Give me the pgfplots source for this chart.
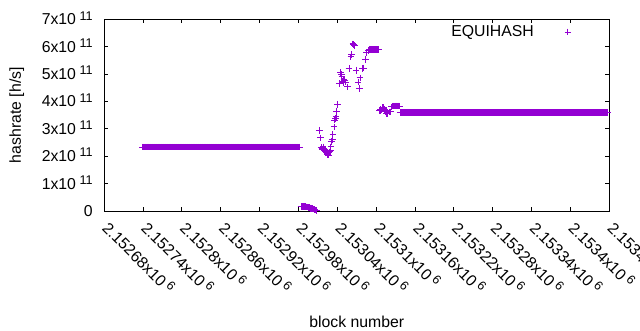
\documentclass[border=0pt]{standalone}
\usepackage{fontspec}
\setmainfont{Liberation Sans}
\usepackage{pgfplots}
\pgfplotsset{compat=1.18}
\definecolor{gpviolet}{RGB}{148,0,211}
\newcommand\sci[2]{#1x10\raisebox{4.7pt}[0pt][0pt]{\fontsize{12.6pt}{12.6pt}\selectfont\ #2}}
\pgfplotsset{pstyle/.style={only marks, mark=+, mark size=3.3pt, color=gpviolet, mark options={line width=1pt},
  legend image code/.code={\draw[##1] plot coordinates {(0pt,0pt)};}}}
\begin{document}
\fontsize{15.8pt}{19pt}\selectfont
\begin{tikzpicture}[font=\fontsize{15.8pt}{19pt}\selectfont]
\begin{axis}[
  at={(104.3pt,119pt)}, anchor=south west,
  width=505pt, height=191.7pt, scale only axis,
  xmin=2152680, xmax=2153460, ymin=0, ymax=7e11,
  axis line style={line width=1pt},
  every tick/.style={black, line width=1pt},
  major tick length=4pt,
  xtick={2152680,2152740,2152800,2152860,2152920,2152980,2153040,2153100,2153160,2153220,2153280,2153340,2153400,2153460},
  xticklabels={\sci{2.15268}{6},\sci{2.15274}{6},\sci{2.1528}{6},\sci{2.15286}{6},\sci{2.15292}{6},\sci{2.15298}{6},\sci{2.15304}{6},\sci{2.1531}{6},\sci{2.15316}{6},\sci{2.15322}{6},\sci{2.15328}{6},\sci{2.15334}{6},\sci{2.1534}{6},\sci{2.15346}{6}},
  ytick={0,1e11,2e11,3e11,4e11,5e11,6e11,7e11},
  yticklabels={0,\sci{1}{11},\sci{2}{11},\sci{3}{11},\sci{4}{11},\sci{5}{11},\sci{6}{11},\sci{7}{11}},
  xticklabel style={xshift=5pt, yshift=-10pt, rotate=-45, anchor=north west, inner sep=0pt},
  yticklabel style={anchor=east, inner sep=0pt, xshift=-11.5pt},
  scaled x ticks=false, scaled y ticks=false,
  xlabel={block number}, ylabel={hashrate [h/s]},
  every axis x label/.style={at={(axis description cs:0.5,-0.6103)}, anchor=base},
  every axis y label/.style={at={(axis description cs:-0.1653,0.5)}, anchor=base, rotate=90},
  legend plot pos=right,
  legend style={draw=none, fill=none, at={(axis description cs:0.9248,0.9337)}, anchor=east,
    inner xsep=0pt, inner ysep=0pt, nodes={inner sep=0pt, text depth=0.15em}, column sep=30.7pt},
]
\addplot[pstyle] coordinates {
(2152739,2.33e11)(2152740,2.33e11)(2152741,2.33e11)(2152742,2.33e11)(2152743,2.33e11)(2152744,2.33e11)(2152745,2.33e11)(2152746,2.33e11)(2152747,2.33e11)(2152748,2.33e11)(2152749,2.33e11)
(2152750,2.33e11)(2152751,2.33e11)(2152752,2.33e11)(2152753,2.33e11)(2152754,2.33e11)(2152755,2.33e11)(2152756,2.33e11)(2152757,2.33e11)(2152758,2.33e11)(2152759,2.33e11)
(2152760,2.33e11)(2152761,2.33e11)(2152762,2.33e11)(2152763,2.33e11)(2152764,2.33e11)(2152765,2.33e11)(2152766,2.33e11)(2152767,2.33e11)(2152768,2.33e11)(2152769,2.33e11)
(2152770,2.33e11)(2152771,2.33e11)(2152772,2.33e11)(2152773,2.33e11)(2152774,2.33e11)(2152775,2.33e11)(2152776,2.33e11)(2152777,2.33e11)(2152778,2.33e11)(2152779,2.33e11)
(2152780,2.33e11)(2152781,2.33e11)(2152782,2.33e11)(2152783,2.33e11)(2152784,2.33e11)(2152785,2.33e11)(2152786,2.33e11)(2152787,2.33e11)(2152788,2.33e11)(2152789,2.33e11)
(2152790,2.33e11)(2152791,2.33e11)(2152792,2.33e11)(2152793,2.33e11)(2152794,2.33e11)(2152795,2.33e11)(2152796,2.33e11)(2152797,2.33e11)(2152798,2.33e11)(2152799,2.33e11)
(2152800,2.33e11)(2152801,2.33e11)(2152802,2.33e11)(2152803,2.33e11)(2152804,2.33e11)(2152805,2.33e11)(2152806,2.33e11)(2152807,2.33e11)(2152808,2.33e11)(2152809,2.33e11)
(2152810,2.33e11)(2152811,2.33e11)(2152812,2.33e11)(2152813,2.33e11)(2152814,2.33e11)(2152815,2.33e11)(2152816,2.33e11)(2152817,2.33e11)(2152818,2.33e11)(2152819,2.33e11)
(2152820,2.33e11)(2152821,2.33e11)(2152822,2.33e11)(2152823,2.33e11)(2152824,2.33e11)(2152825,2.33e11)(2152826,2.33e11)(2152827,2.33e11)(2152828,2.33e11)(2152829,2.33e11)
(2152830,2.33e11)(2152831,2.33e11)(2152832,2.33e11)(2152833,2.33e11)(2152834,2.33e11)(2152835,2.33e11)(2152836,2.33e11)(2152837,2.33e11)(2152838,2.33e11)(2152839,2.33e11)
(2152840,2.33e11)(2152841,2.33e11)(2152842,2.33e11)(2152843,2.33e11)(2152844,2.33e11)(2152845,2.33e11)(2152846,2.33e11)(2152847,2.33e11)(2152848,2.33e11)(2152849,2.33e11)
(2152850,2.33e11)(2152851,2.33e11)(2152852,2.33e11)(2152853,2.33e11)(2152854,2.33e11)(2152855,2.33e11)(2152856,2.33e11)(2152857,2.33e11)(2152858,2.33e11)(2152859,2.33e11)
(2152860,2.33e11)(2152861,2.33e11)(2152862,2.33e11)(2152863,2.33e11)(2152864,2.33e11)(2152865,2.33e11)(2152866,2.33e11)(2152867,2.33e11)(2152868,2.33e11)(2152869,2.33e11)
(2152870,2.33e11)(2152871,2.33e11)(2152872,2.33e11)(2152873,2.33e11)(2152874,2.33e11)(2152875,2.33e11)(2152876,2.33e11)(2152877,2.33e11)(2152878,2.33e11)(2152879,2.33e11)
(2152880,2.33e11)(2152881,2.33e11)(2152882,2.33e11)(2152883,2.33e11)(2152884,2.33e11)(2152885,2.33e11)(2152886,2.33e11)(2152887,2.33e11)(2152888,2.33e11)(2152889,2.33e11)
(2152890,2.33e11)(2152891,2.33e11)(2152892,2.33e11)(2152893,2.33e11)(2152894,2.33e11)(2152895,2.33e11)(2152896,2.33e11)(2152897,2.33e11)(2152898,2.33e11)(2152899,2.33e11)
(2152900,2.33e11)(2152901,2.33e11)(2152902,2.33e11)(2152903,2.33e11)(2152904,2.33e11)(2152905,2.33e11)(2152906,2.33e11)(2152907,2.33e11)(2152908,2.33e11)(2152909,2.33e11)
(2152910,2.33e11)(2152911,2.33e11)(2152912,2.33e11)(2152913,2.33e11)(2152914,2.33e11)(2152915,2.33e11)(2152916,2.33e11)(2152917,2.33e11)(2152918,2.33e11)(2152919,2.33e11)
(2152920,2.33e11)(2152921,2.33e11)(2152922,2.33e11)(2152923,2.33e11)(2152924,2.33e11)(2152925,2.33e11)(2152926,2.33e11)(2152927,2.33e11)(2152928,2.33e11)(2152929,2.33e11)
(2152930,2.33e11)(2152931,2.33e11)(2152932,2.33e11)(2152933,2.33e11)(2152934,2.33e11)(2152935,2.33e11)(2152936,2.33e11)(2152937,2.33e11)(2152938,2.33e11)(2152939,2.33e11)
(2152940,2.33e11)(2152941,2.33e11)(2152942,2.33e11)(2152943,2.33e11)(2152944,2.33e11)(2152945,2.33e11)(2152946,2.33e11)(2152947,2.33e11)(2152948,2.33e11)(2152949,2.33e11)
(2152950,2.33e11)(2152951,2.33e11)(2152952,2.33e11)(2152953,2.33e11)(2152954,2.33e11)(2152955,2.33e11)(2152956,2.33e11)(2152957,2.33e11)(2152958,2.33e11)(2152959,2.33e11)
(2152960,2.33e11)(2152961,2.33e11)(2152962,2.33e11)(2152963,2.33e11)(2152964,2.33e11)(2152965,2.33e11)(2152966,2.33e11)(2152967,2.33e11)(2152968,2.33e11)(2152969,2.33e11)
(2152970,2.33e11)(2152971,2.33e11)(2152972,2.33e11)(2152973,2.33e11)(2152974,2.33e11)(2152975,2.33e11)(2152976,2.33e11)(2152977,2.33e11)(2152978,2.33e11)(2152979,2.33e11)
(2152980,2.33e11)(2152981,2.33e11)(2152982,2.33e11)
};
\addlegendentry{EQUIHASH}
\addplot[pstyle, forget plot] coordinates {
(2152984,1.7e10)(2152985,1.7e10)(2152986,1.7e10)(2152987,1.7e10)(2152988,1.6e10)(2152989,1.6e10)(2152990,1.6e10)(2152991,1.5e10)(2152992,1.5e10)(2152993,1.5e10)(2152994,1.4e10)(2152995,1.3e10)(2152996,1.2e10)
(2152997,1.2e10)(2152998,1.1e10)(2152999,1.0e10)(2153000,1.0e10)(2153001,0.9e10)(2153002,0.8e10)(2153003,0.7e10)(2153004,0.6e10)(2153005,0.5e10)(2153006,0.3e10)(2153007,0.2e10)(2153008,0.1e10)
};
\addplot[pstyle, forget plot] coordinates {
(2153012,2.95e11)(2153014,2.67e11)(2153015,2.31e11)(2153016,2.30e11)(2153017,2.26e11)(2153018,2.34e11)(2153019,2.28e11)
(2153020,2.22e11)(2153021,2.26e11)(2153022,2.18e11)(2153023,2.12e11)(2153024,2.10e11)(2153025,2.06e11)(2153026,2.04e11)
(2153027,2.12e11)(2153028,2.16e11)(2153029,2.22e11)(2153030,2.34e11)(2153031,2.53e11)(2153032,2.62e11)(2153033,2.80e11)
(2153035,3.07e11)(2153036,3.32e11)(2153037,3.38e11)(2153038,3.45e11)(2153039,3.65e11)(2153040,3.89e11)
(2153043,4.66e11)(2153045,5.05e11)(2153046,4.98e11)(2153047,4.92e11)(2153048,4.74e11)(2153049,4.70e11)(2153050,4.80e11)
(2153051,4.78e11)(2153053,4.71e11)(2153056,4.53e11)(2153058,5.20e11)(2153061,5.63e11)(2153062,5.72e11)
(2153064,6.10e11)(2153065,6.08e11)(2153066,6.05e11)(2153069,5.14e11)(2153072,4.71e11)(2153074,4.47e11)(2153075,4.86e11)
(2153079,5.20e11)(2153080,5.22e11)(2153083,5.54e11)(2153085,5.79e11)(2153088,5.87e11)
};
\addplot[pstyle, forget plot] coordinates {
(2153089,5.89e11)(2153090,5.89e11)(2153091,5.89e11)(2153092,5.89e11)(2153093,5.89e11)(2153094,5.89e11)(2153095,5.89e11)(2153096,5.89e11)
(2153097,5.89e11)(2153098,5.89e11)(2153099,5.89e11)(2153100,5.89e11)(2153101,5.89e11)(2153102,5.89e11)(2153103,5.89e11)(2153104,5.89e11)
};
\addplot[pstyle, forget plot] coordinates {
(2153105,3.68e11)(2153106,3.68e11)(2153107,3.70e11)(2153108,3.69e11)(2153109,3.72e11)(2153110,3.78e11)(2153111,3.77e11)
(2153112,3.74e11)(2153113,3.70e11)(2153114,3.68e11)(2153115,3.62e11)(2153116,3.56e11)(2153117,3.56e11)(2153118,3.58e11)
(2153120,3.62e11)(2153122,3.62e11)(2153124,3.80e11)(2153125,3.83e11)(2153126,3.83e11)(2153127,3.83e11)(2153128,3.83e11)
(2153129,3.83e11)(2153130,3.83e11)(2153131,3.83e11)(2153132,3.83e11)(2153133,3.83e11)(2153134,3.83e11)(2153135,3.83e11)(2153136,3.83e11)
};
\addplot[pstyle, forget plot] coordinates {
(2153137,3.6e11)(2153138,3.6e11)(2153139,3.6e11)
(2153140,3.6e11)(2153141,3.6e11)(2153142,3.6e11)(2153143,3.6e11)(2153144,3.6e11)(2153145,3.6e11)(2153146,3.6e11)(2153147,3.6e11)(2153148,3.6e11)(2153149,3.6e11)
(2153150,3.6e11)(2153151,3.6e11)(2153152,3.6e11)(2153153,3.6e11)(2153154,3.6e11)(2153155,3.6e11)(2153156,3.6e11)(2153157,3.6e11)(2153158,3.6e11)(2153159,3.6e11)
(2153160,3.6e11)(2153161,3.6e11)(2153162,3.6e11)(2153163,3.6e11)(2153164,3.6e11)(2153165,3.6e11)(2153166,3.6e11)(2153167,3.6e11)(2153168,3.6e11)(2153169,3.6e11)
(2153170,3.6e11)(2153171,3.6e11)(2153172,3.6e11)(2153173,3.6e11)(2153174,3.6e11)(2153175,3.6e11)(2153176,3.6e11)(2153177,3.6e11)(2153178,3.6e11)(2153179,3.6e11)
(2153180,3.6e11)(2153181,3.6e11)(2153182,3.6e11)(2153183,3.6e11)(2153184,3.6e11)(2153185,3.6e11)(2153186,3.6e11)(2153187,3.6e11)(2153188,3.6e11)(2153189,3.6e11)
(2153190,3.6e11)(2153191,3.6e11)(2153192,3.6e11)(2153193,3.6e11)(2153194,3.6e11)(2153195,3.6e11)(2153196,3.6e11)(2153197,3.6e11)(2153198,3.6e11)(2153199,3.6e11)
(2153200,3.6e11)(2153201,3.6e11)(2153202,3.6e11)(2153203,3.6e11)(2153204,3.6e11)(2153205,3.6e11)(2153206,3.6e11)(2153207,3.6e11)(2153208,3.6e11)(2153209,3.6e11)
(2153210,3.6e11)(2153211,3.6e11)(2153212,3.6e11)(2153213,3.6e11)(2153214,3.6e11)(2153215,3.6e11)(2153216,3.6e11)(2153217,3.6e11)(2153218,3.6e11)(2153219,3.6e11)
(2153220,3.6e11)(2153221,3.6e11)(2153222,3.6e11)(2153223,3.6e11)(2153224,3.6e11)(2153225,3.6e11)(2153226,3.6e11)(2153227,3.6e11)(2153228,3.6e11)(2153229,3.6e11)
(2153230,3.6e11)(2153231,3.6e11)(2153232,3.6e11)(2153233,3.6e11)(2153234,3.6e11)(2153235,3.6e11)(2153236,3.6e11)(2153237,3.6e11)(2153238,3.6e11)(2153239,3.6e11)
(2153240,3.6e11)(2153241,3.6e11)(2153242,3.6e11)(2153243,3.6e11)(2153244,3.6e11)(2153245,3.6e11)(2153246,3.6e11)(2153247,3.6e11)(2153248,3.6e11)(2153249,3.6e11)
(2153250,3.6e11)(2153251,3.6e11)(2153252,3.6e11)(2153253,3.6e11)(2153254,3.6e11)(2153255,3.6e11)(2153256,3.6e11)(2153257,3.6e11)(2153258,3.6e11)(2153259,3.6e11)
(2153260,3.6e11)(2153261,3.6e11)(2153262,3.6e11)(2153263,3.6e11)(2153264,3.6e11)(2153265,3.6e11)(2153266,3.6e11)(2153267,3.6e11)(2153268,3.6e11)(2153269,3.6e11)
(2153270,3.6e11)(2153271,3.6e11)(2153272,3.6e11)(2153273,3.6e11)(2153274,3.6e11)(2153275,3.6e11)(2153276,3.6e11)(2153277,3.6e11)(2153278,3.6e11)(2153279,3.6e11)
(2153280,3.6e11)(2153281,3.6e11)(2153282,3.6e11)(2153283,3.6e11)(2153284,3.6e11)(2153285,3.6e11)(2153286,3.6e11)(2153287,3.6e11)(2153288,3.6e11)(2153289,3.6e11)
(2153290,3.6e11)(2153291,3.6e11)(2153292,3.6e11)(2153293,3.6e11)(2153294,3.6e11)(2153295,3.6e11)(2153296,3.6e11)(2153297,3.6e11)(2153298,3.6e11)(2153299,3.6e11)
(2153300,3.6e11)(2153301,3.6e11)(2153302,3.6e11)(2153303,3.6e11)(2153304,3.6e11)(2153305,3.6e11)(2153306,3.6e11)(2153307,3.6e11)(2153308,3.6e11)(2153309,3.6e11)
(2153310,3.6e11)(2153311,3.6e11)(2153312,3.6e11)(2153313,3.6e11)(2153314,3.6e11)(2153315,3.6e11)(2153316,3.6e11)(2153317,3.6e11)(2153318,3.6e11)(2153319,3.6e11)
(2153320,3.6e11)(2153321,3.6e11)(2153322,3.6e11)(2153323,3.6e11)(2153324,3.6e11)(2153325,3.6e11)(2153326,3.6e11)(2153327,3.6e11)(2153328,3.6e11)(2153329,3.6e11)
(2153330,3.6e11)(2153331,3.6e11)(2153332,3.6e11)(2153333,3.6e11)(2153334,3.6e11)(2153335,3.6e11)(2153336,3.6e11)(2153337,3.6e11)(2153338,3.6e11)(2153339,3.6e11)
(2153340,3.6e11)(2153341,3.6e11)(2153342,3.6e11)(2153343,3.6e11)(2153344,3.6e11)(2153345,3.6e11)(2153346,3.6e11)(2153347,3.6e11)(2153348,3.6e11)(2153349,3.6e11)
(2153350,3.6e11)(2153351,3.6e11)(2153352,3.6e11)(2153353,3.6e11)(2153354,3.6e11)(2153355,3.6e11)(2153356,3.6e11)(2153357,3.6e11)(2153358,3.6e11)(2153359,3.6e11)
(2153360,3.6e11)(2153361,3.6e11)(2153362,3.6e11)(2153363,3.6e11)(2153364,3.6e11)(2153365,3.6e11)(2153366,3.6e11)(2153367,3.6e11)(2153368,3.6e11)(2153369,3.6e11)
(2153370,3.6e11)(2153371,3.6e11)(2153372,3.6e11)(2153373,3.6e11)(2153374,3.6e11)(2153375,3.6e11)(2153376,3.6e11)(2153377,3.6e11)(2153378,3.6e11)(2153379,3.6e11)
(2153380,3.6e11)(2153381,3.6e11)(2153382,3.6e11)(2153383,3.6e11)(2153384,3.6e11)(2153385,3.6e11)(2153386,3.6e11)(2153387,3.6e11)(2153388,3.6e11)(2153389,3.6e11)
(2153390,3.6e11)(2153391,3.6e11)(2153392,3.6e11)(2153393,3.6e11)(2153394,3.6e11)(2153395,3.6e11)(2153396,3.6e11)(2153397,3.6e11)(2153398,3.6e11)(2153399,3.6e11)
(2153400,3.6e11)(2153401,3.6e11)(2153402,3.6e11)(2153403,3.6e11)(2153404,3.6e11)(2153405,3.6e11)(2153406,3.6e11)(2153407,3.6e11)(2153408,3.6e11)(2153409,3.6e11)
(2153410,3.6e11)(2153411,3.6e11)(2153412,3.6e11)(2153413,3.6e11)(2153414,3.6e11)(2153415,3.6e11)(2153416,3.6e11)(2153417,3.6e11)(2153418,3.6e11)(2153419,3.6e11)
(2153420,3.6e11)(2153421,3.6e11)(2153422,3.6e11)(2153423,3.6e11)(2153424,3.6e11)(2153425,3.6e11)(2153426,3.6e11)(2153427,3.6e11)(2153428,3.6e11)(2153429,3.6e11)
(2153430,3.6e11)(2153431,3.6e11)(2153432,3.6e11)(2153433,3.6e11)(2153434,3.6e11)(2153435,3.6e11)(2153436,3.6e11)(2153437,3.6e11)(2153438,3.6e11)(2153439,3.6e11)
(2153440,3.6e11)(2153441,3.6e11)(2153442,3.6e11)(2153443,3.6e11)(2153444,3.6e11)(2153445,3.6e11)(2153446,3.6e11)(2153447,3.6e11)(2153448,3.6e11)(2153449,3.6e11)
(2153450,3.6e11)(2153451,3.6e11)(2153452,3.6e11)(2153453,3.6e11)(2153454,3.6e11)(2153455,3.6e11)(2153456,3.6e11)(2153457,3.6e11)
};
\end{axis}
\pgfresetboundingbox
\useasboundingbox (0,0) rectangle (640pt,330pt);
\end{tikzpicture}
\end{document}
